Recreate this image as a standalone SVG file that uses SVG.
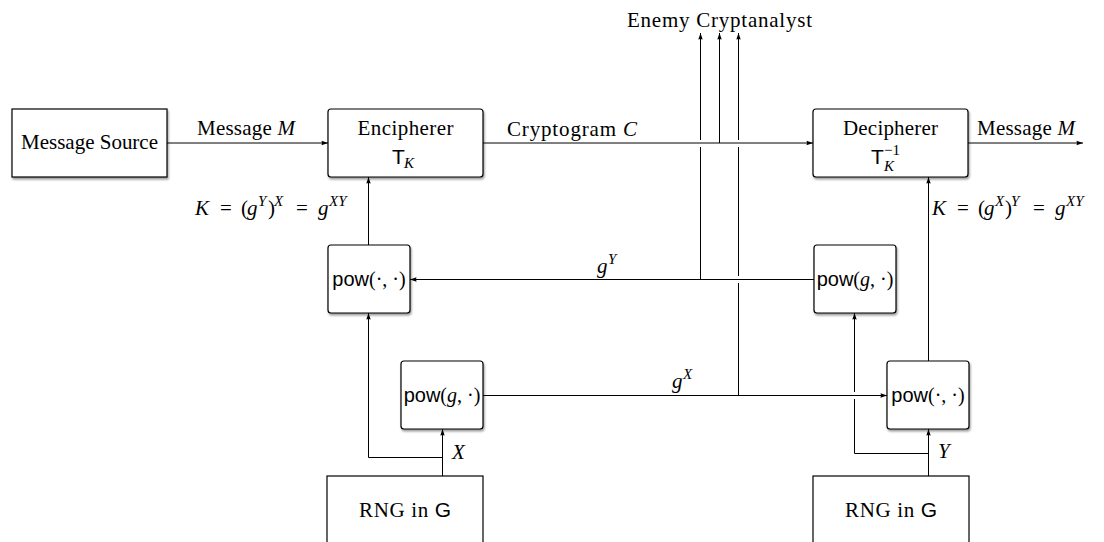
<svg xmlns="http://www.w3.org/2000/svg" width="1104" height="542" viewBox="0 0 1104 542">
<style>
.t{font-family:"Liberation Serif","DejaVu Serif",serif;font-size:21px;fill:#000}
.p{font-size:20px}
.i{font-style:italic}
.s{font-family:"Liberation Sans","DejaVu Sans",sans-serif}
.sup{font-size:15px}
.box{fill:#fff;stroke:#000;stroke-width:1.2}
.ln{fill:none;stroke:#000;stroke-width:1}
.arr{marker-end:url(#ah)}
</style>
<defs>
<marker id="ah" markerUnits="userSpaceOnUse" markerWidth="8" markerHeight="8" viewBox="0 0 8 8" refX="7" refY="4" orient="auto">
<path d="M0.5,1.8 L7,4 L0.5,6.2 Q1.6,4 0.5,1.8z" fill="#000"/>
</marker>
<filter id="sh" x="-10%" y="-10%" width="130%" height="130%">
<feGaussianBlur in="SourceAlpha" stdDeviation="1.2"/>
<feOffset dx="1" dy="1.5"/>
<feComponentTransfer><feFuncA type="linear" slope="0.4"/></feComponentTransfer>
<feMerge><feMergeNode/><feMergeNode in="SourceGraphic"/></feMerge>
</filter>
</defs>
<rect width="1104" height="542" fill="#fff"/>

<g id="connectors">
<path class="ln arr" d="M167 143 H328"/>
<path class="ln arr" d="M483 143 H813"/>
<path class="ln arr" d="M968 143 H1083"/>
<path class="ln arr" d="M368.5 245 V177"/>
<path class="ln arr" d="M928.5 361 V177"/>
<path class="ln arr" d="M814 279.5 H410"/>
<path class="ln arr" d="M700.5 279.5 V147 M700.5 140 V33"/>
<path class="ln arr" d="M719.5 143 V33"/>
<path class="ln arr" d="M483 395.5 H887"/>
<path class="ln arr" d="M738.5 395.5 V283 M738.5 276 V147 M738.5 140 V33"/>
<path class="ln arr" d="M442.5 476 V429"/>
<path class="ln arr" d="M442.5 457.5 H368.5 V313"/>
<path class="ln arr" d="M928.5 476 V429"/>
<path class="ln arr" d="M928.5 453.5 H854.5 V399 M854.5 392 V313"/>
<text class="t" x="197" y="135" textLength="98">Message <tspan class="i">M</tspan></text>
<text class="t" x="507" y="136" textLength="130">Cryptogram <tspan class="i">C</tspan></text>
<text class="t" x="977" y="135" textLength="98">Message <tspan class="i">M</tspan></text>
<text class="t" x="627" y="27" textLength="185">Enemy Cryptanalyst</text>
<text class="t"><tspan class="i" x="195" y="215">K</tspan><tspan x="220" y="215">=</tspan><tspan x="241" y="215">(</tspan><tspan class="i" x="247" y="215">g</tspan><tspan class="i sup" x="258" y="206">Y</tspan><tspan x="268" y="215">)</tspan><tspan class="i sup" x="274" y="206">X</tspan><tspan x="296" y="215">=</tspan><tspan class="i" x="318" y="215">g</tspan><tspan class="i sup" x="329" y="206">XY</tspan></text>
<text class="t"><tspan class="i" x="932" y="215">K</tspan><tspan x="957" y="215">=</tspan><tspan x="978" y="215">(</tspan><tspan class="i" x="984" y="215">g</tspan><tspan class="i sup" x="995" y="206">X</tspan><tspan x="1005" y="215">)</tspan><tspan class="i sup" x="1011" y="206">Y</tspan><tspan x="1033" y="215">=</tspan><tspan class="i" x="1055" y="215">g</tspan><tspan class="i sup" x="1066" y="206">XY</tspan></text>
<text class="t"><tspan class="i" x="597" y="273">g</tspan><tspan class="i sup" x="608" y="264">Y</tspan></text>
<text class="t"><tspan class="i" x="672" y="388">g</tspan><tspan class="i sup" x="683" y="379">X</tspan></text>
<text class="t i" x="452" y="459">X</text>
<text class="t i" x="938" y="458">Y</text>
</g>

<g id="message-source">
<rect class="box" x="12" y="109" width="155" height="68" filter="url(#sh)"/>
<text class="t" x="89.5" y="149" text-anchor="middle" textLength="137">Message Source</text>
</g>

<g id="encipherer">
<rect class="box" x="328" y="109" width="155" height="68" rx="3" filter="url(#sh)"/>
<text class="t" x="405.5" y="135" text-anchor="middle" textLength="96">Encipherer</text>
<text class="t s" x="392" y="164">T</text>
<text class="t i sup" x="404" y="168">K</text>
</g>

<g id="decipherer">
<rect class="box" x="813" y="109" width="155" height="68" rx="3" filter="url(#sh)"/>
<text class="t" x="890.5" y="135" text-anchor="middle" textLength="95">Decipherer</text>
<text class="t s" x="871" y="164">T</text>
<text class="t sup" x="884" y="155">−1</text>
<text class="t i sup" x="884" y="171">K</text>
</g>

<g id="pow-left-top">
<rect class="box" x="328" y="245" width="82" height="68" rx="3" filter="url(#sh)"/>
<text class="t p" x="369" y="286" text-anchor="middle"><tspan class="s">pow</tspan>(·, ·)</text>
</g>

<g id="pow-right-top">
<rect class="box" x="814" y="245" width="82" height="68" rx="3" filter="url(#sh)"/>
<text class="t p" x="855" y="286" text-anchor="middle"><tspan class="s">pow</tspan>(<tspan class="i">g</tspan>, ·)</text>
</g>

<g id="pow-left-bottom">
<rect class="box" x="401" y="361" width="82" height="68" rx="3" filter="url(#sh)"/>
<text class="t p" x="442" y="402" text-anchor="middle"><tspan class="s">pow</tspan>(<tspan class="i">g</tspan>, ·)</text>
</g>

<g id="pow-right-bottom">
<rect class="box" x="887" y="361" width="82" height="68" rx="3" filter="url(#sh)"/>
<text class="t p" x="928" y="402" text-anchor="middle"><tspan class="s">pow</tspan>(·, ·)</text>
</g>

<g id="rng-left">
<rect class="box" x="327" y="476" width="156" height="90"/>
<text class="t" x="405" y="517" text-anchor="middle" textLength="92">RNG in <tspan class="s">G</tspan></text>
</g>

<g id="rng-right">
<rect class="box" x="813" y="476" width="156" height="90"/>
<text class="t" x="891" y="517" text-anchor="middle" textLength="92">RNG in <tspan class="s">G</tspan></text>
</g>
</svg>
